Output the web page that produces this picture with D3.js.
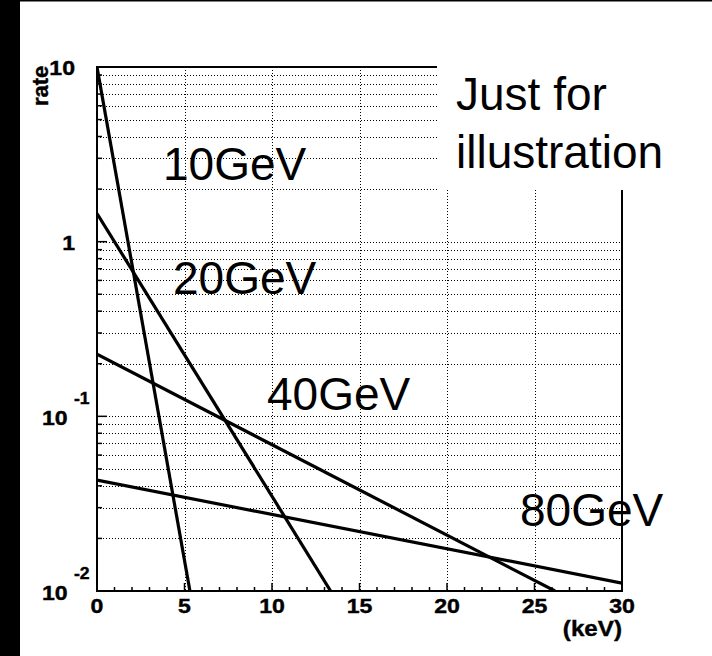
<!DOCTYPE html>
<html>
<head>
<meta charset="utf-8">
<script src="https://cdn.jsdelivr.net/npm/d3@7"></script>
<style>
  html, body { margin: 0; padding: 0; background: #fff; }
  svg { display: block; }
  text { font-family: "Liberation Sans", Arial, Helvetica, sans-serif; fill: #000; }
  .axislab { font-weight: bold; stroke: #000; stroke-width: 0.4; }
</style>
</head>
<body>
<script>
// Recoil spectra for several WIMP masses (rate vs recoil energy, log scale)
const masses = ["10GeV", "20GeV", "40GeV", "80GeV"];
// each spectrum is an exponential, i.e. a straight segment on the log axis
const spectrum10 = [[0, 10], [5.31, 0.01]];
const spectrum20 = [[0, 1.45], [13.35, 0.01]];
const spectrum40 = [[0, 0.227], [26.17, 0.01]];
const spectrum80 = [[0, 0.0431], [30, 0.0111]];
const spectra = [spectrum10, spectrum20, spectrum40, spectrum80];

const xTickValues = [0, 5, 10, 15, 20, 25, 30];
const yTickValues = [10, 1, 0.1, 0.01];
const yTickBase = ["10", "1", "10", "10"];
const yTickExp = ["", "", "-1", "-2"];
const xAxisTitle = "(keV)";
const yAxisTitle = "rate";
const noteLines = ["Just for", "illustration"];

const W = 712, H = 656;
const frameL = 97, frameR = 622, frameT = 67, frameB = 591;
const wide = 1.1; // horizontal stretch of the axis lettering

const svg = d3.select("body").append("svg").attr("width", W).attr("height", H);
svg.append("rect").attr("width", W).attr("height", H).attr("fill", "#fff");

const x = d3.scaleLinear().domain([0, 30]).range([frameL, frameR]);
const y = d3.scaleLog().domain([0.01, 10]).range([frameB, frameT]);

// grid: vertical at major x ticks, horizontal at every log subdivision
const grid = svg.append("g").attr("stroke", "#000").attr("stroke-width", 1)
  .attr("stroke-dasharray", "1,2").attr("fill", "none");
xTickValues.filter(v => v > 0 && v < 30).forEach(v => {
  grid.append("line").attr("x1", Math.round(x(v)) + 0.5).attr("x2", Math.round(x(v)) + 0.5)
    .attr("y1", frameT).attr("y2", frameB);
});
const logSubs = [];
[0.01, 0.1, 1].forEach(dec => { for (let k = 1; k <= 9; k++) logSubs.push(dec * k); });
logSubs.filter(v => v > 0.01 + 1e-9 && v < 10 - 1e-9).forEach(v => {
  const py = Math.round(y(v)) + 0.5;
  grid.append("line").attr("x1", frameL).attr("x2", frameR).attr("y1", py).attr("y2", py);
});

// spectra
svg.append("clipPath").attr("id", "frameClip").append("rect")
  .attr("x", frameL).attr("y", frameT).attr("width", frameR - frameL).attr("height", frameB - frameT);
const line = d3.line().x(d => x(d[0])).y(d => y(d[1]));
svg.append("g").attr("clip-path", "url(#frameClip)")
  .selectAll("path").data(spectra).join("path")
  .attr("d", line).attr("fill", "none").attr("stroke", "#000").attr("stroke-width", 3.2);

// frame
svg.append("rect").attr("x", frameL).attr("y", frameT).attr("width", frameR - frameL).attr("height", frameB - frameT)
  .attr("fill", "none").attr("stroke", "#000").attr("stroke-width", 2);

// ticks (drawn inside the frame)
const ticks = svg.append("g").attr("stroke", "#000").attr("stroke-width", 1.5);
d3.range(0, 31).forEach(v => {
  const len = v % 5 === 0 ? 8 : 4;
  ticks.append("line").attr("x1", x(v)).attr("x2", x(v)).attr("y1", frameB).attr("y2", frameB - len);
});
logSubs.concat([10]).forEach(v => {
  const isMajor = Math.abs(Math.log10(v) - Math.round(Math.log10(v))) < 1e-9;
  const len = isMajor ? 10 : 5;
  ticks.append("line").attr("x1", frameL).attr("x2", frameL + len).attr("y1", y(v)).attr("y2", y(v));
});

// bold axis lettering, slightly widened around its anchor point
function axisText(px, py, size, anchor, str) {
  return svg.append("text").attr("class", "axislab")
    .attr("transform", `translate(${px},${py}) scale(${wide},1)`)
    .attr("text-anchor", anchor).attr("font-size", size).text(str);
}

// x tick labels
xTickValues.forEach(v => axisText(x(v), frameB + 22, 21, "middle", v));

// y tick labels (powers of ten with raised exponents)
yTickValues.forEach((v, i) => {
  const py = y(v);
  if (yTickExp[i]) {
    axisText(frameL - 55, py + 9, 21, "start", yTickBase[i]);
    axisText(frameL - 23, py - 12, 16, "start", yTickExp[i]);
  } else {
    axisText(frameL - 22, py + 8, 21, "end", yTickBase[i]);
  }
});

// axis titles
axisText(frameR, 636, 22, "end", xAxisTitle);
svg.append("text").attr("class", "axislab").attr("transform", "translate(48,106) rotate(-90)")
  .attr("font-size", 22).text(yAxisTitle);

// white note box in the upper right corner
svg.append("rect").attr("x", 437).attr("y", 20).attr("width", 275).attr("height", 170).attr("fill", "#fff");
svg.append("g").selectAll("text").data(noteLines).join("text")
  .attr("x", 456).attr("y", (d, i) => 110 + i * 58)
  .attr("font-size", 46).text(d => d);

// mass labels beside each spectrum
const massLabelPos = [[163, 180], [173, 294], [267, 410], [520, 526]];
svg.append("g").selectAll("text").data(masses).join("text")
  .attr("x", (d, i) => massLabelPos[i][0]).attr("y", (d, i) => massLabelPos[i][1])
  .attr("font-size", 46).text(d => d);

// dark border strips
svg.append("rect").attr("x", 0).attr("y", 0).attr("width", 20).attr("height", H).attr("fill", "#000");
svg.append("rect").attr("x", 0).attr("y", 0).attr("width", W).attr("height", 1.5).attr("fill", "#000");
</script>
</body>
</html>
